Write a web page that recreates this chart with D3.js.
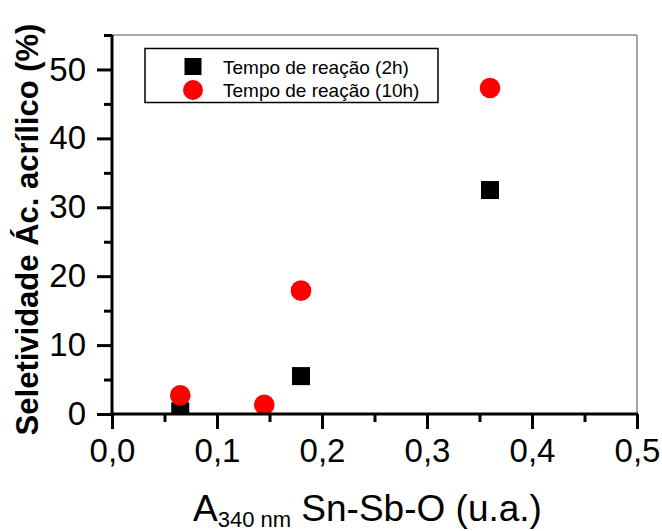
<!DOCTYPE html>
<html><head><meta charset="utf-8">
<script src="https://cdn.jsdelivr.net/npm/d3@7"></script>
<style>body{margin:0;background:#fff}svg{display:block}text{font-family:Arial,"Liberation Sans",sans-serif}</style>
</head><body>
<script>
const xs2h = [0.065, 0.18, 0.36];
const ys2h = [0.4, 5.5, 32.5];
const xs10h = [0.065, 0.145, 0.18, 0.36];
const ys10h = [2.7, 1.35, 17.9, 47.3];
const seriesNames = ["Tempo de reação (2h)", "Tempo de reação (10h)"];
const xTicks = [0, 0.1, 0.2, 0.3, 0.4, 0.5];
const xTickLabels = ["0,0", "0,1", "0,2", "0,3", "0,4", "0,5"];
const yTicks = [0, 10, 20, 30, 40, 50];
const xMinor = [0.05, 0.15, 0.25, 0.35, 0.45];
const yMinor = [5, 15, 25, 35, 45, 55];

const W = 662, H = 531;
const L = 112, R = 637, T = 35, B = 414;
const svg = d3.select("body").append("svg").attr("width", W).attr("height", H);
const x = d3.scaleLinear().domain([0, 0.5]).range([L, R]);
const y = d3.scaleLinear().domain([0, 55]).range([B, T]);

svg.append("clipPath").attr("id", "clip").append("rect")
  .attr("x", L).attr("y", T).attr("width", R - L).attr("height", B - T);

// frame top/right thin
svg.append("line").attr("x1", L).attr("x2", R).attr("y1", T).attr("y2", T).attr("stroke", "#555").attr("stroke-width", 1);
svg.append("line").attr("x1", R).attr("x2", R).attr("y1", T).attr("y2", B).attr("stroke", "#555").attr("stroke-width", 1);

const g = svg.append("g").attr("clip-path", "url(#clip)");
const sq = 18;
g.selectAll("rect.s").data(xs2h.map((v, i) => [v, ys2h[i]])).join("rect")
  .attr("x", d => x(d[0]) - sq / 2).attr("y", d => y(d[1]) - sq / 2)
  .attr("width", sq).attr("height", sq).attr("fill", "#000");
g.selectAll("circle.c").data(xs10h.map((v, i) => [v, ys10h[i]])).join("circle")
  .attr("cx", d => x(d[0])).attr("cy", d => y(d[1])).attr("r", 10.3).attr("fill", "#ff0000");

// axes
const xAx = svg.append("g").attr("transform", `translate(0,${B})`)
  .call(d3.axisBottom(x).tickValues(xTicks).tickFormat((d, i) => xTickLabels[i]).tickSize(15).tickPadding(10));
const xAxMinor = svg.append("g").attr("transform", `translate(0,${B})`)
  .call(d3.axisBottom(x).tickValues(xMinor).tickFormat("").tickSize(8));
const yAx = svg.append("g").attr("transform", `translate(${L},0)`)
  .call(d3.axisLeft(y).tickValues(yTicks).tickSize(15).tickPadding(11));
const yAxMinor = svg.append("g").attr("transform", `translate(${L},0)`)
  .call(d3.axisLeft(y).tickValues(yMinor).tickFormat("").tickSize(8));
[xAx, xAxMinor, yAx, yAxMinor].forEach(a => {
  a.selectAll("path.domain").attr("stroke", "#000").attr("stroke-width", 3).attr("d", null);
  a.selectAll(".tick line").attr("stroke", "#000").attr("stroke-width", 3);
  a.selectAll("text").attr("fill", "#000").style("font-size", "33px").style("font-family", "Arial, 'Liberation Sans', sans-serif");
});
svg.append("line").attr("x1", L - 1.5).attr("x2", R + 1).attr("y1", B).attr("y2", B).attr("stroke", "#000").attr("stroke-width", 3);
svg.append("line").attr("x1", L).attr("x2", L).attr("y1", T).attr("y2", B + 1.5).attr("stroke", "#000").attr("stroke-width", 3);

// legend
svg.append("rect").attr("x", 145).attr("y", 48.5).attr("width", 293).attr("height", 54)
  .attr("fill", "#fff").attr("stroke", "#000").attr("stroke-width", 1.5);
svg.append("rect").attr("x", 193 - 8.5).attr("y", 66.5 - 8.5).attr("width", 17).attr("height", 17).attr("fill", "#000");
svg.append("circle").attr("cx", 193).attr("cy", 90).attr("r", 10).attr("fill", "#ff0000");
svg.append("text").attr("x", 223).attr("y", 74).text(seriesNames[0]).style("font-size", "19px");
svg.append("text").attr("x", 223).attr("y", 97).text(seriesNames[1]).style("font-size", "19px");

// y title
svg.append("text").attr("transform", `translate(38,${(T + B) / 2 + 5}) rotate(-90)`)
  .attr("text-anchor", "middle").style("font-size", "31px").style("font-weight", "bold")
  .text("Seletividade Ác. acrílico (%)");

// x title
const xt = svg.append("text").attr("x", 193).attr("y", 521).style("font-size", "37px");
xt.append("tspan").text("A");
xt.append("tspan").attr("dy", 6).style("font-size", "22px").text("340 nm");
xt.append("tspan").attr("dy", -6).text(" Sn-Sb-O (u.a.)");
</script>
</body></html>
